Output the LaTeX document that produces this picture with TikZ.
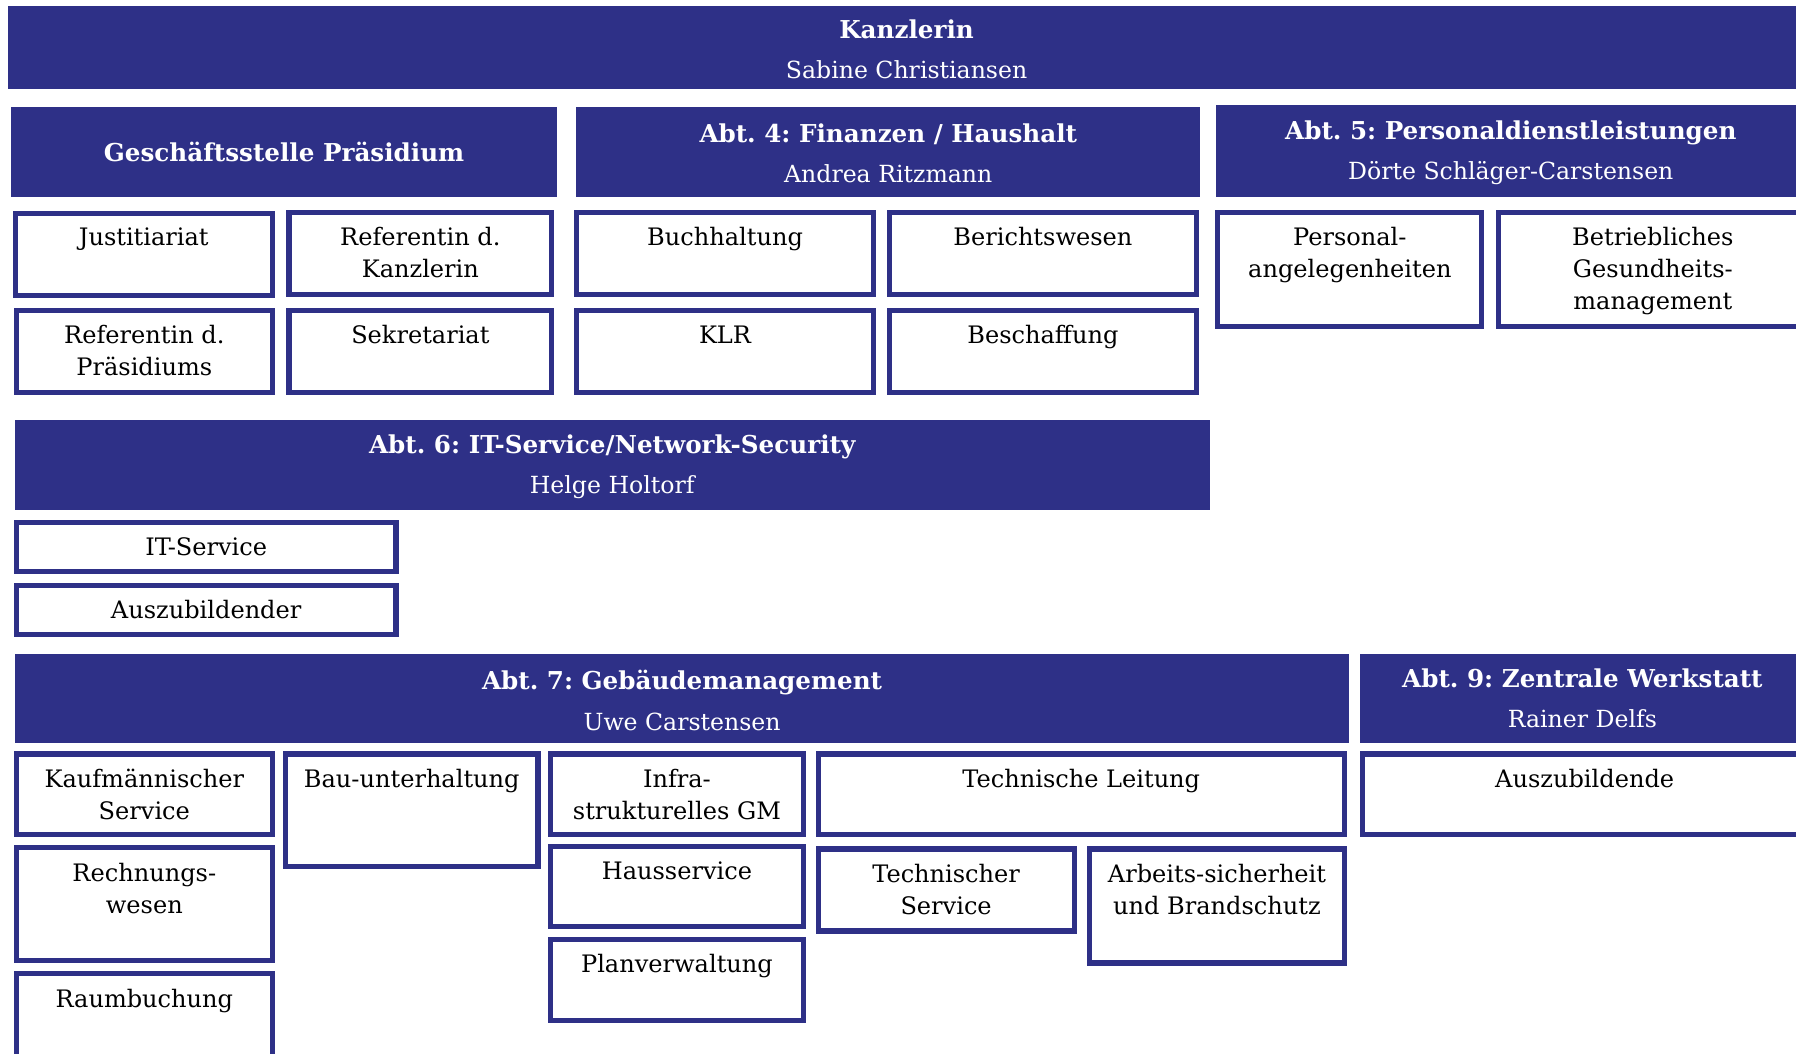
\documentclass[tikz,border=0pt]{standalone}
\usepackage{fontspec}
\setmainfont{DejaVu Serif}
\usepackage{tikz}
\usetikzlibrary{positioning}
\definecolor{uniblue}{HTML}{2E3087}
\frenchspacing

% head bar: name, x1, y1, x2, y2, text shift, text
\newcommand{\orghead}[7]{%
  \fill[uniblue] (#2,#3) rectangle (#4,#5);
  \node[headbox] (#1) at ({(#2+#4)/2},{(#3+#5)/2+#6}) {#7};}
% framed unit: name, x1, y1, x2, y2, text
\newcommand{\orgbox}[6]{%
  \node[unitbox, minimum width={(#4-#2-4.5)*1pt}, minimum height={(#5-#3-4.5)*1pt}]
    (#1) at ({(#2+#4)/2},{(#3+#5)/2}) {};
  \node[unittext] (#1-text) at ([yshift=-15pt]#1.north) {#6};}
\newcommand{\hdtitle}[1]{{\fontsize{21.5}{35}\bfseries\selectfont #1}}

\begin{document}
\begin{tikzpicture}[
    x=1pt, y=-1pt,
    headbox/.style={
        text=white,
        inner sep=0pt,
        align=center,
        font=\fontsize{20.6}{35}\selectfont
    },
    unitbox/.style={draw=uniblue, line width=4.5pt, fill=white, inner sep=0pt},
    unittext/.style={anchor=north, align=center, inner sep=0pt,
        font=\fontsize{21}{28}\selectfont}
]
\useasboundingbox (0,0) rectangle (1568,920);
\clip (0,0) rectangle (1568,920);

% ---------------- Kanzlerin ----------------
\orghead{kanz}{7}{5}{1576}{78}{1.5}{\hdtitle{Kanzlerin}\\Sabine Christiansen}

% ---------------- Row 1 ----------------
\orghead{gst}{10}{93}{486}{172}{0}{\hdtitle{Geschäftsstelle Präsidium}}
\orghead{abt4}{503}{93}{1048}{172}{1.5}{\hdtitle{Abt. 4: Finanzen / Haushalt}\\Andrea Ritzmann}
\orghead{abt5}{1062}{92}{1576}{172}{1.5}{\hdtitle{Abt. 5: Personaldienstleistungen}\\Dörte Schläger-Carstensen}

\orgbox{jus}{11}{184}{240}{260}{Justitiariat}
\orgbox{refk}{250}{183}{484}{259}{Referentin d.\\Kanzlerin}
\orgbox{refp}{12}{269}{240}{345}{Referentin d.\\Präsidiums}
\orgbox{sek}{250}{269}{484}{345}{Sekretariat}

\orgbox{buch}{501}{183}{765}{259}{Buchhaltung}
\orgbox{ber}{774}{183}{1047}{259}{Berichtswesen}
\orgbox{klr}{501}{269}{765}{345}{KLR}
\orgbox{besch}{774}{269}{1047}{345}{Beschaffung}

\orgbox{pers}{1061}{183}{1296}{287}{Personal-\\angelegenheiten}
\orgbox{bgm}{1306}{183}{1580}{287}{Betriebliches\\Gesundheits-\\management}

% ---------------- Abt. 6 ----------------
\orghead{abt6}{13}{367}{1056}{445}{1.5}{\hdtitle{Abt. 6: IT-Service/Network-Security}\\Helge Holtorf}
\orgbox{its}{12}{454}{348}{501}{IT-Service}
\orgbox{azb}{12}{509}{348}{556}{Auszubildender}

% ---------------- Abt. 7 and Abt. 9 ----------------
\orghead{abt7}{13}{571}{1178}{649}{1.5}{\hdtitle{Abt. 7: Gebäudemanagement}\\Uwe Carstensen}
\orghead{abt9}{1187}{571}{1576}{649}{0}{\hdtitle{Abt. 9: Zentrale Werkstatt}\\Rainer Delfs}

\orgbox{kfm}{12}{656}{240}{731}{Kaufmännischer\\Service}
\orgbox{rw}{12}{738}{240}{841}{Rechnungs-\\wesen}
\orgbox{raum}{12}{848}{240}{940}{Raumbuchung}
\orgbox{bau}{247}{656}{472}{759}{Bau-unterhaltung}
\orgbox{infra}{478}{656}{704}{731}{Infra-\\strukturelles GM}
\orgbox{haus}{478}{737}{704}{811}{Hausservice}
\orgbox{plan}{478}{818}{704}{893}{Planverwaltung}
\orgbox{tl}{712}{656}{1176}{731}{Technische Leitung}
\orgbox{ts}{712}{739}{940}{815}{Technischer\\Service}
\orgbox{asb}{949}{739}{1176}{843}{Arbeits-sicherheit\\und Brandschutz}
\orgbox{azb9}{1187}{656}{1580}{731}{Auszubildende}

\end{tikzpicture}
\end{document}
